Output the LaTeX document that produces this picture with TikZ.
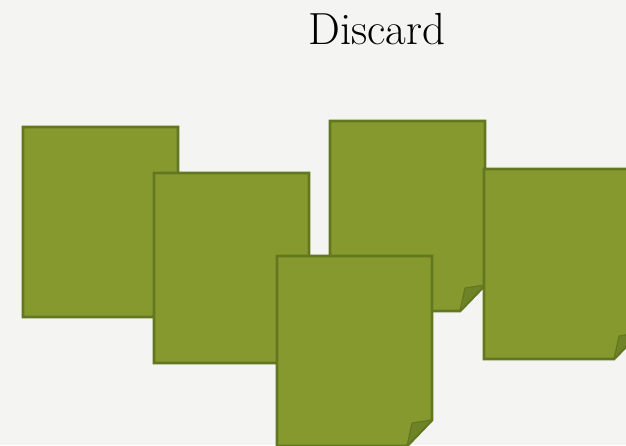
\documentclass[tikz,border=0pt]{standalone}
\usepackage{tikz}
\usetikzlibrary{positioning, backgrounds}
\usepackage{xcolor}
\definecolor{paper}   {HTML}{F4F4F3}
\definecolor{olive}   {HTML}{85992E}
\definecolor{olivedk} {HTML}{637720}
\definecolor{flapdk}  {HTML}{6E8226}
\tikzset{
  sheet/.style  = {draw=olivedk, line width=2.8pt, fill=olive, line join=miter},
  flap/.style   = {draw=olivedk, line width=1.2pt, fill=flapdk, line join=round},
  title/.style  = {font=\fontsize{45}{54}\selectfont, text=black, inner sep=0pt},
  pics/note/.style = {code={
    \draw[sheet] (0,0) -- (155,0) -- (155,164) -- (130,190) -- (0,190) -- cycle;
    \filldraw[flap] (130,190) .. controls (132,178) .. (135,167)
      .. controls (145,166) .. (155,164) -- cycle;
  }},
}

\begin{document}
\begin{tikzpicture}[x=1pt, y=-1pt]

  % page area
  \fill[paper] (0,0) rectangle (626,445);
  \useasboundingbox (0,0) rectangle (626,445);

  % heading
  \node[title, anchor=base] (head) at (377,44) {Discard};

  % pile of notes, back to front
  \pic (noteA) at (23,127)  {note};
  \pic (noteB) at (154,173) {note};
  \pic (noteC) at (330,121) {note};
  \pic (noteD) at (484,169) {note};
  \pic (noteE) at (277,256) {note};

\end{tikzpicture}
\end{document}
